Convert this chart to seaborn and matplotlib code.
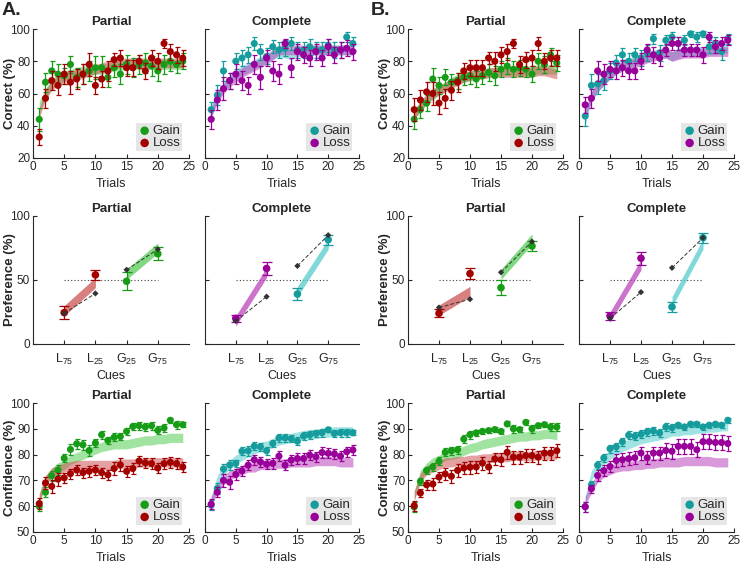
import numpy as np
import pandas as pd
import matplotlib
matplotlib.use("Agg")
import matplotlib.pyplot as plt
import seaborn as sns

sns.set_theme(style="ticks")
plt.rcParams["font.family"] = ["Liberation Sans", "DejaVu Sans"]
plt.rcParams["mathtext.fontset"] = "custom"
plt.rcParams["mathtext.rm"] = "Liberation Sans"

trials = list(range(1, 25))

# ---------------- Correct (%) ----------------
A_P_corr_gain = [44, 67, 74, 72, 71, 78, 70, 72, 74, 76, 76, 70, 76, 72, 78, 76, 78, 79, 77, 74, 78, 80, 78, 80]
A_P_corr_gain_err = [7, 6, 6, 6, 5, 5, 6, 6, 6, 7, 7, 6, 6, 6, 6, 6, 6, 6, 6, 6, 6, 6, 5, 5]
A_P_corr_loss = [33, 57, 68, 65, 72, 67, 69, 72, 78, 65, 69, 74, 81, 82, 76, 76, 80, 74, 82, 80, 91, 86, 84, 82]
A_P_corr_loss_err = [5, 6, 6, 6, 6, 7, 6, 6, 7, 5, 5, 6, 4, 5, 5, 5, 4, 5, 5, 5, 3, 5, 5, 5]
A_P_corr_gain_mod = [52, 60, 66, 69, 71, 72, 73, 74, 74, 75, 75, 76, 77, 77, 78, 78, 78, 78, 78, 78, 78, 78, 78, 78]
A_P_corr_loss_mod = [48, 59, 65, 68, 70, 71, 72, 72, 74, 75, 76, 77, 78, 79, 79, 79, 79, 79, 79, 79, 79, 79, 79, 79]

A_C_corr_gain = [50, 59, 74, 68, 80, 82, 84, 91, 86, 83, 89, 87, 88, 91, 87, 87, 89, 87, 87, 90, 87, 87, 95, 91]
A_C_corr_gain_err = [5, 6, 6, 5, 5, 5, 5, 4, 5, 5, 4, 5, 5, 4, 5, 5, 5, 5, 5, 4, 5, 5, 3, 4]
A_C_corr_loss = [44, 56, 63, 68, 72, 68, 65, 78, 70, 82, 74, 72, 91, 76, 86, 84, 82, 86, 82, 89, 84, 87, 88, 86]
A_C_corr_loss_err = [6, 6, 7, 5, 6, 6, 5, 6, 7, 5, 6, 6, 3, 6, 5, 5, 5, 5, 5, 5, 5, 5, 5, 5]
A_C_corr_gain_mod = [50, 58, 64, 68, 72, 74, 76, 78, 80, 82, 84, 86, 85, 84, 86, 86, 87, 87, 87, 87, 87, 87, 87, 87]
A_C_corr_loss_mod = [48, 57, 63, 67, 70, 73, 75, 77, 79, 81, 84, 87, 87, 87, 87, 87, 87, 87, 87, 87, 87, 87, 87, 87]

B_P_corr_gain = [44, 50, 54, 69, 65, 70, 67, 68, 70, 71, 69, 71, 73, 71, 75, 77, 75, 76, 75, 72, 80, 78, 84, 79]
B_P_corr_gain_err = [6, 5, 5, 7, 5, 5, 5, 5, 5, 5, 5, 5, 5, 6, 5, 5, 5, 5, 5, 5, 5, 5, 4, 5]
B_P_corr_loss = [50, 56, 61, 60, 54, 57, 62, 67, 74, 76, 76, 76, 82, 80, 84, 86, 91, 78, 81, 82, 91, 80, 82, 82]
B_P_corr_loss_err = [7, 6, 6, 7, 7, 6, 6, 6, 5, 5, 5, 5, 4, 6, 5, 5, 3, 5, 5, 5, 4, 5, 5, 5]
B_P_corr_gain_mod = [47, 52, 56, 59, 62, 64, 67, 69, 70, 71, 72, 72, 73, 73, 74, 74, 74, 74, 74, 74, 75, 75, 75, 75]
B_P_corr_loss_mod = [47, 52, 57, 60, 62, 64, 66, 68, 70, 71, 72, 72, 73, 73, 73, 73, 73, 73, 73, 73, 74, 74, 73, 72]

B_C_corr_gain = [46, 65, 66, 68, 74, 79, 84, 80, 84, 82, 85, 94, 85, 93, 95, 91, 93, 97, 95, 97, 89, 91, 86, 94]
B_C_corr_gain_err = [6, 7, 6, 6, 5, 5, 4, 5, 4, 5, 5, 3, 5, 3, 3, 4, 3, 2, 3, 2, 4, 4, 5, 3]
B_C_corr_loss = [53, 57, 74, 72, 75, 74, 76, 74, 74, 80, 87, 84, 82, 87, 91, 91, 87, 87, 87, 84, 95, 89, 91, 93]
B_C_corr_loss_err = [5, 6, 6, 6, 5, 5, 5, 5, 5, 5, 4, 5, 5, 4, 4, 4, 4, 4, 4, 5, 3, 4, 4, 3]
B_C_corr_gain_mod = [44, 58, 64, 68, 72, 75, 77, 79, 80, 82, 83, 84, 85, 85, 83, 85, 86, 86, 86, 86, 87, 87, 88, 88]
B_C_corr_loss_mod = [48, 58, 64, 68, 72, 75, 77, 78, 79, 80, 82, 83, 84, 85, 83, 84, 85, 85, 85, 85, 86, 86, 86, 86]

# ---------------- Confidence (%) ----------------
A_P_conf_gain = [60, 65.4, 71.8, 74, 78.6, 82, 84.2, 83.8, 81.6, 84.5, 87.7, 85.5, 86.7, 87, 89, 90.9, 91.2, 90.7, 91.2, 89.4, 90.3, 93.3, 91.6, 91.6]
A_P_conf_gain_err = [2, 2, 2, 2, 1.5, 2, 2, 2, 2, 1.5, 1.5, 1.5, 1.5, 1.5, 1.5, 1.5, 1.5, 1.5, 1.5, 1.5, 1.5, 1, 1.5, 1]
A_P_conf_loss = [61, 69, 67.7, 70.5, 71, 72.6, 74, 73, 73.5, 74, 73, 72.2, 74.6, 76, 73.5, 74.6, 77.5, 76.8, 76.5, 74.8, 76.5, 77, 76.5, 75.2]
A_P_conf_loss_err = [2, 2.5, 2.5, 2.5, 2, 2, 2, 2, 2, 2, 2, 2, 2.5, 2.5, 2, 2, 2, 2, 2, 2, 2, 2, 2, 2]
A_P_conf_gain_mod = [63, 70, 73, 75, 76, 78, 79, 80, 81, 82, 83, 83.5, 84, 84, 84, 84.5, 85, 85.5, 85.5, 86, 86, 86.5, 86.5, 86.5]
A_P_conf_loss_mod = [63, 70, 73, 74, 75, 75.5, 76, 76, 76, 76, 76, 76, 76, 76.5, 76.5, 76.5, 77, 77, 77, 77, 77, 77, 77, 77]

A_C_conf_gain = [60.4, 66.9, 74.4, 76, 76.6, 81.3, 81.5, 83.3, 83, 81.5, 84.3, 86.5, 86.5, 86.2, 85.2, 87.2, 87.6, 88.2, 88.5, 89.6, 88.2, 88.5, 88.5, 88.5]
A_C_conf_gain_err = [2, 2, 2, 2, 1.5, 1.5, 2, 1.5, 1.5, 1.5, 1.5, 1.5, 1.5, 1.5, 1.5, 1.5, 1.5, 1.5, 1.5, 1, 1.5, 1.5, 1.5, 1]
A_C_conf_loss = [60.8, 65.4, 70, 69.3, 72.3, 73.7, 75.9, 78, 77.2, 76.3, 76.6, 79.4, 75.9, 77.9, 78.5, 78.5, 79.8, 79.2, 80.8, 80.5, 80.3, 79.4, 81.1, 81.8]
A_C_conf_loss_err = [2, 2, 2.5, 2.5, 2, 2, 2, 2, 2, 2, 2, 2, 2, 2, 2, 2, 2, 2, 2, 2, 2, 2, 2, 2]
A_C_conf_gain_mod = [62, 70, 74, 76, 78, 79.5, 81, 82, 83, 83.5, 84.5, 85.5, 86, 86.5, 87, 87.5, 88, 88, 88.5, 88.5, 89, 89, 89, 89]
A_C_conf_loss_mod = [62, 67, 70, 72, 73, 74, 75, 75, 76, 76, 76.5, 76.5, 76.5, 77, 77, 77, 77, 77.5, 77.5, 77.5, 77.5, 77, 77, 77]

B_P_conf_gain = [59.7, 69.6, 73.8, 75.2, 77.4, 80.9, 81.5, 81.9, 86, 87.7, 88.4, 89, 89.3, 89.7, 89, 91.9, 90, 89.7, 92.5, 90, 91.2, 91.6, 90.7, 90.7]
B_P_conf_gain_err = [2, 1.5, 1.5, 1.5, 1.5, 1.5, 1.5, 1.5, 1.5, 1.5, 1, 1, 1, 1, 1, 1, 1.5, 1, 1, 1.5, 1, 1, 1.5, 1.5]
B_P_conf_loss = [60.2, 65.1, 68.3, 68.6, 71.3, 72.5, 71.6, 73.9, 74.8, 75.1, 75.2, 76.7, 75.2, 78.3, 78, 80.9, 79, 79, 79.6, 79.6, 79, 80.6, 80.6, 81.5]
B_P_conf_loss_err = [2, 1.5, 2, 2.5, 2, 2.5, 2.5, 2.5, 2.5, 2.5, 2.5, 2.5, 2.5, 2.5, 2.5, 2.5, 2.5, 2.5, 2.5, 2.5, 2.5, 2.5, 2.5, 2.5]
B_P_conf_gain_mod = [64, 72, 75, 77, 78, 79.5, 80, 80.5, 81.5, 82.5, 83, 84, 84.5, 85, 85.5, 86, 86.5, 87, 87, 87.5, 87.5, 88, 88, 87.5]
B_P_conf_loss_mod = [64, 71, 74, 75, 76, 77, 77, 77.5, 77.5, 78, 78, 78.5, 78.5, 79, 79, 79, 79.5, 79.5, 79.5, 79.5, 80, 80, 80, 80]

B_C_conf_gain = [59.8, 68.3, 75.9, 78.7, 82.3, 83, 85, 87.5, 87.1, 87.9, 88.8, 89.2, 88.4, 90.7, 90.4, 91.4, 90.7, 91.8, 91.8, 90.7, 91.4, 91.8, 91.4, 93.3]
B_C_conf_gain_err = [2, 1.5, 1.5, 1.5, 1.5, 1.5, 1.5, 1.5, 1.5, 1.5, 1.5, 1.5, 1.5, 1.5, 1.5, 1, 1, 1, 1, 1, 1, 1, 1, 1]
B_C_conf_loss = [59.8, 66.8, 71.9, 73.8, 75.4, 77.7, 78, 78.4, 78.8, 80.6, 78.8, 80.6, 80.6, 81.6, 81.3, 83.2, 83.2, 83.2, 81.9, 85, 85, 84.7, 84.7, 84.3]
B_C_conf_loss_err = [2, 1.5, 2, 2, 2, 2.5, 2.5, 2.5, 2.5, 2.5, 2.5, 2.5, 2.5, 3, 3, 3, 3, 3, 3, 3, 3, 3, 3, 3]
B_C_conf_gain_mod = [62, 72, 75, 78, 80, 81.5, 83, 84, 85, 86, 86.5, 87, 87.5, 88, 89, 89, 89.5, 89.5, 90, 90, 90.5, 90.5, 91, 91]
B_C_conf_loss_mod = [62, 67, 71, 73, 74, 75, 75.5, 75.5, 76, 76, 76.5, 76.5, 77, 77, 77, 77, 77.5, 77.5, 77.5, 77.5, 77.5, 77, 77, 77]

# ---------------- Preference (%) ----------------
cues = [r"$\mathregular{L_{75}}$", r"$\mathregular{L_{25}}$", r"$\mathregular{G_{25}}$", r"$\mathregular{G_{75}}$"]
A_P_pref = [24.5, 54, 49, 70.5]
A_P_pref_err = [5, 4, 7, 5]
A_P_pref_mod = [24, 39.5, 58, 74]
A_P_band_loss = [26, 48]
A_P_band_gain = [54.5, 75]

A_C_pref = [20, 59, 39, 81.5]
A_C_pref_err = [3, 5, 5, 4]
A_C_pref_mod = [18, 37, 61, 85]
A_C_band_loss = [18, 56]
A_C_band_gain = [41, 78]

B_P_pref = [24, 55, 44, 76.5]
B_P_pref_err = [3, 4, 6, 4]
B_P_pref_mod = [28.5, 35, 56, 80]
B_P_band_loss = [26.5, 41]
B_P_band_gain = [54.5, 82]

B_C_pref = [22, 67, 29, 83]
B_C_pref_err = [3, 5, 4, 4]
B_C_pref_mod = [20, 40.5, 59.5, 83]
B_C_band_loss = [21, 62]
B_C_band_gain = [33, 78]

# ---------------- styling ----------------
GREEN, RED = "#169c16", "#a30000"
TEAL, PURPLE = "#169c9c", "#990099"
B_GREEN, B_RED = "#55cc55", "#cc5555"
B_TEAL, B_PURPLE = "#55cccc", "#bb44bb"
AXC = "#262626"
FS_TICK = 8.5
FS_LAB = 8.5
FS_BOLD = 9.5

fig = plt.figure(figsize=(7.4, 5.64), dpi=100)
W, H = 740, 564
cols = [(33, 189), (205, 359), (408, 563), (579, 734)]
rows = [(29, 158), (216, 344), (403, 532)]


def make_ax(c, r):
    x0, x1 = cols[c]
    y0, y1 = rows[r]
    ax = fig.add_axes([x0 / W, 1 - y1 / H, (x1 - x0) / W, (y1 - y0) / H])
    for s in ["top", "right"]:
        ax.spines[s].set_visible(False)
    for s in ["left", "bottom"]:
        ax.spines[s].set_linewidth(0.8)
        ax.spines[s].set_color(AXC)
    ax.tick_params(direction="in", length=3, width=0.8, colors=AXC, labelsize=FS_TICK, pad=2)
    return ax


def place_ylabel(ax, c, text):
    x0, x1 = cols[c]
    ax.set_ylabel(text, fontsize=FS_BOLD, fontweight="bold")
    ax.yaxis.set_label_coords(-17.0 / (x1 - x0), 0.5)


def trial_panel(ax, gain, gerr, loss, lerr, gmod, lmod, half, cg, cl, bg, bl, title):
    t = np.array(trials)
    gm, lm = np.array(gmod), np.array(lmod)
    ax.fill_between(t, gm - half, gm + half, color=bg, alpha=0.55, lw=0, zorder=1)
    ax.fill_between(t, lm - half, lm + half, color=bl, alpha=0.55, lw=0, zorder=1)
    ax.errorbar(t, gain, yerr=gerr, fmt="none", ecolor=cg, elinewidth=0.9, capsize=1.8, capthick=0.9, zorder=2)
    sns.scatterplot(x=t, y=gain, color=cg, s=26, edgecolor="none", ax=ax, label="Gain", zorder=3)
    ax.errorbar(t, loss, yerr=lerr, fmt="none", ecolor=cl, elinewidth=0.9, capsize=1.8, capthick=0.9, zorder=4)
    sns.scatterplot(x=t, y=loss, color=cl, s=26, edgecolor="none", ax=ax, label="Loss", zorder=5)
    ax.set_xlim(0, 25)
    ax.set_xticks([0, 5, 10, 15, 20, 25])
    ax.set_xlabel("Trials", fontsize=FS_LAB + 0.5, color=AXC, labelpad=4)
    ax.set_title(title, fontsize=FS_BOLD, fontweight="bold", pad=3)
    leg = ax.legend(loc="lower right", frameon=True, facecolor="#e6e6e6", edgecolor="none",
                    framealpha=1, fancybox=False, fontsize=FS_LAB + 1, handletextpad=0.1,
                    borderpad=0.15, labelspacing=0.0, handlelength=1.0, borderaxespad=0.5,
                    markerscale=1.2)
    for txt in leg.get_texts():
        txt.set_color(AXC)


def pref_panel(ax, vals, errs, mods, band_l, band_g, cl, cg, bl, bg, title):
    x = np.array([1, 2, 3, 4])
    half = 4.0
    xl = np.array([1, 2])
    xg = np.array([3, 4])
    bl_c = np.array(band_l)
    bg_c = np.array(band_g)
    ax.fill_between(xl, bl_c - half, bl_c + half, color=bl, alpha=0.75, lw=0, zorder=1)
    ax.fill_between(xg, bg_c - half, bg_c + half, color=bg, alpha=0.75, lw=0, zorder=1)
    ax.plot([1, 4], [50, 50], ls=(0, (1, 2)), color="#444444", lw=0.8, zorder=0)
    colors = [cl, cl, cg, cg]
    for xi, v, e, c in zip(x, vals, errs, colors):
        ax.errorbar([xi], [v], yerr=[e], fmt="none", ecolor=c, elinewidth=0.9, capsize=3.5, capthick=0.9, zorder=2)
    df = pd.DataFrame({"x": x, "y": vals, "grp": ["L", "L", "G", "G"]})
    sns.scatterplot(data=df, x="x", y="y", hue="grp", palette={"L": cl, "G": cg}, s=30,
                    edgecolor="none", ax=ax, legend=False, zorder=3)
    dm = pd.DataFrame({"x": x, "y": mods, "grp": ["L", "L", "G", "G"]})
    sns.lineplot(data=dm, x="x", y="y", units="grp", estimator=None, color="#333333",
                 lw=0.7, ls=(0, (4, 2)), ax=ax, zorder=4)
    ax.scatter(x, mods, marker="D", s=10, color="#333333", zorder=5, edgecolor="none")
    ax.set_xlim(0, 5)
    ax.set_ylim(0, 100)
    ax.set_yticks([0, 50, 100])
    ax.set_xticks(x)
    ax.set_xticklabels(cues, fontsize=FS_TICK + 0.5)
    ax.tick_params(axis="x", pad=6)
    ax.set_xlabel("Cues", fontsize=FS_LAB + 0.5, color=AXC, labelpad=2)
    ax.set_ylabel("")
    ax.set_title(title, fontsize=FS_BOLD, fontweight="bold", pad=3)


corr = [
    (A_P_corr_gain, A_P_corr_gain_err, A_P_corr_loss, A_P_corr_loss_err, A_P_corr_gain_mod, A_P_corr_loss_mod, "P"),
    (A_C_corr_gain, A_C_corr_gain_err, A_C_corr_loss, A_C_corr_loss_err, A_C_corr_gain_mod, A_C_corr_loss_mod, "C"),
    (B_P_corr_gain, B_P_corr_gain_err, B_P_corr_loss, B_P_corr_loss_err, B_P_corr_gain_mod, B_P_corr_loss_mod, "P"),
    (B_C_corr_gain, B_C_corr_gain_err, B_C_corr_loss, B_C_corr_loss_err, B_C_corr_gain_mod, B_C_corr_loss_mod, "C"),
]
conf = [
    (A_P_conf_gain, A_P_conf_gain_err, A_P_conf_loss, A_P_conf_loss_err, A_P_conf_gain_mod, A_P_conf_loss_mod, "P"),
    (A_C_conf_gain, A_C_conf_gain_err, A_C_conf_loss, A_C_conf_loss_err, A_C_conf_gain_mod, A_C_conf_loss_mod, "C"),
    (B_P_conf_gain, B_P_conf_gain_err, B_P_conf_loss, B_P_conf_loss_err, B_P_conf_gain_mod, B_P_conf_loss_mod, "P"),
    (B_C_conf_gain, B_C_conf_gain_err, B_C_conf_loss, B_C_conf_loss_err, B_C_conf_gain_mod, B_C_conf_loss_mod, "C"),
]
prefs = [
    (A_P_pref, A_P_pref_err, A_P_pref_mod, A_P_band_loss, A_P_band_gain, "P"),
    (A_C_pref, A_C_pref_err, A_C_pref_mod, A_C_band_loss, A_C_band_gain, "C"),
    (B_P_pref, B_P_pref_err, B_P_pref_mod, B_P_band_loss, B_P_band_gain, "P"),
    (B_C_pref, B_C_pref_err, B_C_pref_mod, B_C_band_loss, B_C_band_gain, "C"),
]

for c in range(4):
    g, ge, l, le, gm, lm, kind = corr[c]
    ax = make_ax(c, 0)
    if kind == "P":
        trial_panel(ax, g, ge, l, le, gm, lm, 3.0, GREEN, RED, B_GREEN, B_RED, "Partial")
    else:
        trial_panel(ax, g, ge, l, le, gm, lm, 3.0, TEAL, PURPLE, B_TEAL, B_PURPLE, "Complete")
    ax.set_ylim(20, 100)
    ax.set_yticks([20, 40, 60, 80, 100])
    if kind == "P":
        place_ylabel(ax, c, "Correct (%)")
    else:
        ax.set_yticklabels([])
        ax.set_ylabel("")

    v, e, m, bl, bg, kind = prefs[c]
    ax = make_ax(c, 1)
    if kind == "P":
        pref_panel(ax, v, e, m, bl, bg, RED, GREEN, B_RED, B_GREEN, "Partial")
        place_ylabel(ax, c, "Preference (%)")
    else:
        pref_panel(ax, v, e, m, bl, bg, PURPLE, TEAL, B_PURPLE, B_TEAL, "Complete")
        ax.set_yticklabels([])

    g, ge, l, le, gm, lm, kind = conf[c]
    ax = make_ax(c, 2)
    if kind == "P":
        trial_panel(ax, g, ge, l, le, gm, lm, 1.8, GREEN, RED, B_GREEN, B_RED, "Partial")
    else:
        trial_panel(ax, g, ge, l, le, gm, lm, 1.8, TEAL, PURPLE, B_TEAL, B_PURPLE, "Complete")
    ax.set_ylim(50, 100)
    ax.set_yticks([50, 60, 70, 80, 90, 100])
    if kind == "P":
        place_ylabel(ax, c, "Confidence (%)")
    else:
        ax.set_yticklabels([])
        ax.set_ylabel("")

fig.text(2 / W, 1 - 2 / H, "A.", fontsize=14, fontweight="bold", va="top", ha="left")
fig.text(371 / W, 1 - 2 / H, "B.", fontsize=14, fontweight="bold", va="top", ha="left")

fig.savefig("out.png", dpi=100)
